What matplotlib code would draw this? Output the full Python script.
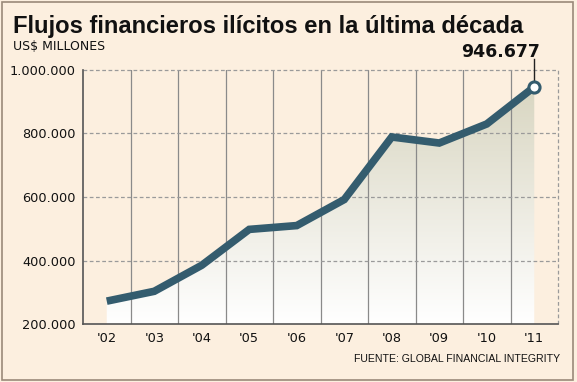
import matplotlib
matplotlib.use("Agg")
import matplotlib.pyplot as plt
import numpy as np
from matplotlib.patches import Rectangle, Polygon
from matplotlib.ticker import FuncFormatter
from matplotlib.colors import LinearSegmentedColormap

years = [2002, 2003, 2004, 2005, 2006, 2007, 2008, 2009, 2010, 2011]
year_labels = ["'02", "'03", "'04", "'05", "'06", "'07", "'08", "'09", "'10", "'11"]
values = [272000, 303000, 385000, 498000, 510000, 592000, 789000, 770000, 830000, 946677]
yticks = [200000, 400000, 600000, 800000, 1000000]

BG = "#fcefdf"
LINE = "#345c6e"

fig = plt.figure(figsize=(5.77, 3.82), dpi=100, facecolor=BG)
W, H = 577, 382
ax = fig.add_axes([83 / W, 1 - 324 / H, (558 - 83) / W, (324 - 70) / H])
ax.set_facecolor(BG)
ax.set_xlim(2001.5, 2011.5)
ax.set_ylim(200000, 1000000)

grad = np.linspace(0, 1, 256).reshape(-1, 1)
cmap = LinearSegmentedColormap.from_list("g", ["#ffffff", "#d6d3bd"])
im = ax.imshow(grad, extent=[2001.5, 2011.5, 200000, 1000000], origin="lower",
               aspect="auto", cmap=cmap, zorder=1)
poly_pts = [(years[0], 200000)] + list(zip(years, values)) + [(years[-1], 200000)]
poly = Polygon(poly_pts, closed=True, transform=ax.transData, facecolor="none", edgecolor="none")
ax.add_patch(poly)
im.set_clip_path(poly)

for x in np.arange(2002.5, 2011.0, 1.0):
    ax.axvline(x, color="#8a8a8a", lw=0.9, zorder=2)
ax.axvline(2011.5, color="#9a9a9a", lw=0.9, ls=(0, (3, 2)), zorder=2, clip_on=False)
for y in [400000, 600000, 800000, 1000000]:
    ax.axhline(y, color="#9a9a9a", lw=0.9, ls=(0, (3, 2)), zorder=2, clip_on=False)

ax.plot(years, values, color=LINE, lw=5.5, solid_joinstyle="miter", solid_capstyle="butt", zorder=4)
ax.plot([years[-1], years[-1]], [values[-1], 1035000], color="#222222", lw=1, clip_on=False, zorder=3)
ax.plot([years[-1]], [values[-1]], marker="o", ms=8, mfc="white", mec=LINE, mew=2.2, zorder=5, clip_on=False)
ax.text(years[-1] - 0.7, 1058000, "946.677", ha="center", va="center", fontsize=12.5,
        fontweight="bold", color="#111111")

for s in ["top", "right"]:
    ax.spines[s].set_visible(False)
for s in ["left", "bottom"]:
    ax.spines[s].set_color("#555555")
    ax.spines[s].set_linewidth(1.2)
    ax.spines[s].set_zorder(6)

ax.set_yticks(yticks)
ax.yaxis.set_major_formatter(FuncFormatter(lambda v, p: f"{int(v):,}".replace(",", ".")))
ax.set_xticks(years)
ax.set_xticklabels(year_labels)
ax.tick_params(axis="both", length=0, labelsize=9.3, colors="#111111")
ax.tick_params(axis="x", pad=6)
ax.tick_params(axis="y", pad=5)

renderer = fig.canvas.get_renderer()

def fit_text(x, y, s, target_w, size, **kw):
    t = fig.text(x, y, s, fontsize=size, **kw)
    w = t.get_window_extent(renderer).width
    t.set_fontsize(size * target_w / w)
    return t

fit_text(13 / W, 1 - 27 / H, "Flujos financieros ilícitos en la última década", 510, 18,
         fontweight="bold", family=["Liberation Sans", "DejaVu Sans"],
         va="center", ha="left", color="#111111")
fig.text(13 / W, 1 - 47 / H, "US$ MILLONES", fontsize=9, family=["DejaVu Sans"],
         va="center", ha="left", color="#111111")
fit_text(560 / W, 1 - 359 / H, "FUENTE: GLOBAL FINANCIAL INTEGRITY", 204, 9,
         family=["Liberation Sans", "DejaVu Sans"], va="center", ha="right", color="#111111")

fig.patches.append(Rectangle((2 / W, 2 / H), 571 / W, 378 / H, transform=fig.transFigure,
                             fill=False, edgecolor="#9a8a7a", lw=1.2))

fig.savefig("out.png", dpi=100, facecolor=BG)
